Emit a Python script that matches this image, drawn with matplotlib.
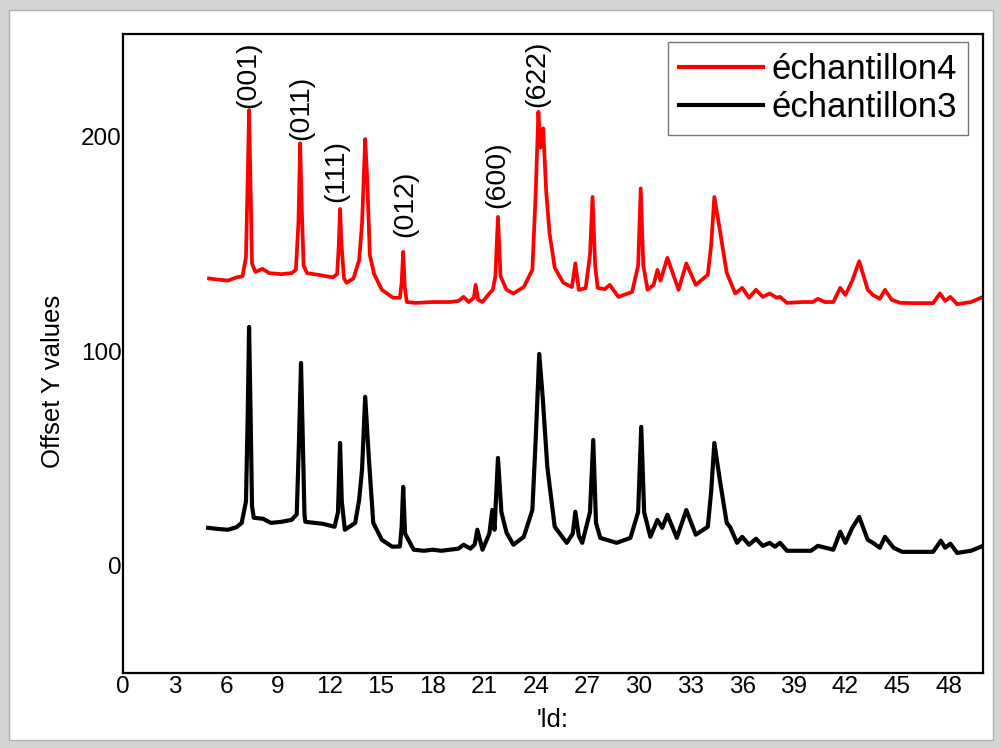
import matplotlib
matplotlib.use("Agg")
import matplotlib.pyplot as plt
from matplotlib.patches import Rectangle

plt.rcParams['font.family'] = ['Liberation Sans', 'DejaVu Sans']

# échantillon4 (courbe rouge, décalée)
x_e4 = [5.0, 5.5, 6.1, 6.6, 6.95, 7.15, 7.25, 7.33, 7.42, 7.5, 7.7, 8.1, 8.5, 9.2, 9.8,
        10.05, 10.2, 10.3, 10.4, 10.5, 10.7, 11.5, 12.2, 12.45, 12.55, 12.62, 12.7, 12.85,
        13.0, 13.4, 13.73, 13.9, 14.08, 14.2, 14.35, 14.6, 15.05, 15.7, 16.1, 16.2, 16.29,
        16.38, 16.5, 17.0, 18.0, 19.0, 19.5, 19.8, 20.1, 20.4, 20.5, 20.65, 20.9, 21.3,
        21.5, 21.65, 21.8, 21.95, 22.3, 22.7, 23.3, 23.8, 24.0, 24.15, 24.27, 24.43, 24.6,
        24.8, 25.1, 25.6, 26.1, 26.3, 26.5, 26.9, 27.15, 27.3, 27.45, 27.6, 28.0, 28.3,
        28.8, 29.6, 29.95, 30.1, 30.25, 30.5, 30.85, 31.07, 31.25, 31.65, 32.3, 32.75,
        33.3, 34.0, 34.2, 34.38, 34.7, 35.1, 35.6, 36.0, 36.4, 36.8, 37.2, 37.6, 38.0,
        38.2, 38.6, 39.5, 40.1, 40.4, 40.8, 41.3, 41.7, 42.0, 42.4, 42.8, 43.3, 43.6,
        44.0, 44.3, 44.7, 45.2, 46.0, 47.1, 47.5, 47.8, 48.1, 48.5, 49.3, 50.0]
y_e4 = [134, 133.5, 133, 134.5, 135, 144, 180, 212.5, 175, 141, 137, 138.5, 136.5, 136, 136.5,
        138, 160, 197, 165, 140, 136.5, 135.5, 134.5, 136, 150, 166.4, 150, 134,
        132, 134, 142.6, 160, 199, 180, 145, 136, 128.7, 125, 125, 132, 146.4,
        130, 123, 122.6, 123, 123, 123.5, 125.4, 123, 125, 131, 124, 123, 127,
        128.7, 135, 162.7, 135, 128.7, 127, 130, 138, 175, 211.7, 195, 204, 175,
        155, 139, 132, 130, 141, 128.7, 129.5, 145, 172, 140, 129.6, 129, 131,
        125.4, 127.7, 140, 176, 140, 128.7, 131, 138, 133, 143.6, 128.7, 141,
        131, 135.7, 150, 172, 156.6, 136.6, 127, 129.6, 125, 128.7, 125.4, 127, 125,
        125.4, 122.6, 123, 123, 124.5, 123, 123, 129.6, 126.3, 133, 142, 128.7, 126.3,
        124.5, 128.7, 124, 122.6, 122.5, 122.5, 127, 123.5, 125.4, 122, 123, 125.4]

# échantillon3 (courbe noire)
x_e3 = [4.95, 5.5, 6.1, 6.6, 6.9, 7.15, 7.25, 7.33, 7.42, 7.5, 7.6, 8.15, 8.6, 9.2, 9.8,
        10.1, 10.22, 10.35, 10.45, 10.55, 10.6, 11.6, 12.3, 12.5, 12.62, 12.72, 12.9,
        13.5, 13.73, 13.9, 14.08, 14.3, 14.55, 15.05, 15.65, 16.1, 16.2, 16.29, 16.4,
        16.9, 17.5, 18.0, 18.5, 19.0, 19.5, 19.8, 20.2, 20.45, 20.6, 20.9, 21.3, 21.47,
        21.6, 21.8, 22.0, 22.3, 22.7, 23.3, 23.8, 24.0, 24.2, 24.4, 24.67, 25.1, 25.8,
        26.15, 26.3, 26.5, 26.7, 27.15, 27.34, 27.5, 27.75, 28.7, 29.5, 29.95, 30.13,
        30.3, 30.66, 31.07, 31.35, 31.65, 32.2, 32.75, 33.3, 34.0, 34.2, 34.38, 34.7,
        35.1, 35.3, 35.7, 36.0, 36.4, 36.8, 37.2, 37.6, 37.9, 38.2, 38.6, 40.0, 40.4,
        41.3, 41.7, 42.0, 42.4, 42.8, 43.3, 43.6, 44.0, 44.3, 44.8, 45.3, 47.1, 47.55,
        47.8, 48.1, 48.5, 49.3, 50.0]
y_e3 = [17.7, 17.2, 16.8, 18, 20, 30, 70, 111.4, 70, 28, 22.4, 21.9, 20, 20.5, 21.4,
        24, 55, 94.6, 60, 24, 20.5, 19.6, 18.2, 25, 57.3, 30, 16.8,
        20, 30.8, 45, 78.8, 49.4, 20, 12.1, 8.9, 9, 18, 36.8, 15,
        7.5, 7.0, 7.5, 7.0, 7.5, 8, 9.8, 8, 10, 16.8, 7.5, 15, 26,
        16.8, 50.3, 25, 15.4, 9.8, 13.5, 26, 60, 98.8, 78.8, 46, 18.2, 10.7,
        15, 25.2, 14, 10.7, 25, 58.7, 20, 13, 10.7, 13, 25, 64.8,
        25, 13.5, 21.4, 17.7, 23.8, 13, 26, 14.5, 18.2, 35, 57.3, 40,
        20, 18, 10.7, 13.5, 9.8, 12.6, 9.3, 10.7, 8.9, 10.7, 7, 7, 9.3,
        7.5, 15.9, 10.7, 17.7, 22.8, 12.1, 10.7, 8.4, 13.5, 8.4, 6.5, 6.5, 11.7,
        8.4, 10.3, 6, 7, 9.3]

# indexation des pics
hkl = ['(001)', '(011)', '(111)', '(012)', '(600)', '(622)']
hkl_x = [7.27, 10.35, 12.4, 16.4, 21.76, 24.1]
hkl_y = [213.5, 198.6, 169.7, 153.4, 167, 214]

fig = plt.figure(figsize=(10.01, 7.48), dpi=100, facecolor='#d4d4d4')
# cadre blanc (capture d'écran)
fig.patches.append(Rectangle((9 / 1001, 8 / 748), 984 / 1001, 730 / 748,
                             transform=fig.transFigure, facecolor='white',
                             edgecolor='#b0b0b0', lw=1, zorder=-10))
ax = fig.add_axes([123 / 1001, 75 / 748, 860 / 1001, 639 / 748])
ax.set_facecolor('white')

ax.plot(x_e4, y_e4, color='red', lw=2.7, label='échantillon4')
ax.plot(x_e3, y_e3, color='black', lw=3.0, label='échantillon3')

for lab, xx, yy in zip(hkl, hkl_x, hkl_y):
    ax.text(xx, yy, lab, rotation=90, ha='center', va='bottom', fontsize=20.5)

ax.set_xlim(0, 50)
ax.set_ylim(-50, 248)
ax.set_xticks(range(0, 49, 3))
ax.set_yticks([0, 100, 200])
ax.tick_params(axis='both', length=0, labelsize=17.5)
ax.tick_params(axis='x', pad=2)
ax.tick_params(axis='y', pad=1)
for s in ax.spines.values():
    s.set_linewidth(1.6)

ax.set_ylabel('Offset Y values', fontsize=18.5)
ax.set_xlabel("'ld:", fontsize=18.5)
ax.yaxis.set_label_coords(-0.068, 0.457)
ax.xaxis.set_label_coords(0.5, -0.055)

leg = ax.legend(loc='upper right', bbox_to_anchor=(0.9826, 0.9875), borderaxespad=0,
                fontsize=25, frameon=True, fancybox=False, handlelength=2.4,
                handletextpad=0.25, labelspacing=0.15, borderpad=0.32)
leg.get_frame().set_edgecolor('#555555')
leg.get_frame().set_linewidth(1.0)
for h in leg.get_lines():
    h.set_linewidth(3)

fig.savefig('out.png', dpi=100, facecolor=fig.get_facecolor())
